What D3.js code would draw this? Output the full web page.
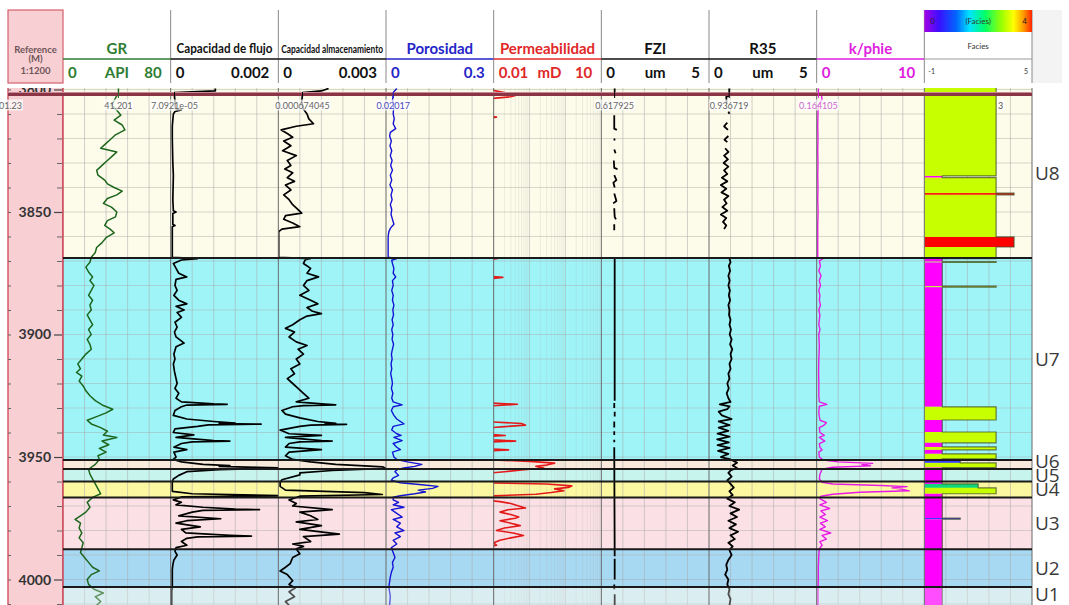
<!DOCTYPE html>
<html><head><meta charset="utf-8">
<script src="https://cdn.jsdelivr.net/npm/d3@7"></script>
<style>
body{margin:0;background:#fff;}
svg{display:block;font-family:Lato,"Open Sans",sans-serif;}
</style>
</head><body>
<svg id="c" width="1069" height="605"></svg>
<script>
// ---------------- data ----------------
const depthRange = [3799.4, 4010.4];
const depthMajorTicks = [3800, 3850, 3900, 3950, 4000];
const depthMinorTicks = d3.range(3800, 4011, 10);
const readoutDepth = 3801.23;

const trackTitles = ["GR", "Capacidad de flujo", "Capacidad almacenamiento", "Porosidad", "Permeabilidad", "FZI", "R35", "k/phie", "Facies"];
const trackUnits  = ["API", "", "", "", "mD", "um", "um", "", ""];
const trackMin    = [0, 0, 0, 0, 0.01, 0, 0, 0, -1];
const trackMax    = [80, 0.002, 0.003, 0.3, 10, 5, 5, 10, 5];
const trackMinLabels = ["0", "0", "0", "0", "0.01", "0", "0", "0", "-1"];
const trackMaxLabels = ["80", "0.002", "0.003", "0.3", "10", "5", "5", "10", "5"];

const zoneNames = ["U8", "U7", "U6", "U5", "U4", "U3", "U2", "U1"];
const zoneTops  = [3799.4, 3868.8, 3951.2, 3954.9, 3960.0, 3966.5, 3987.6, 4003.1];
const zoneBases = [3868.8, 3951.2, 3954.9, 3960.0, 3966.5, 3987.6, 4003.1, 4010.4];

// [depth, value]; null value = no reading
const grData = [[3799.6,41.2],[3801.23,41.201],[3802.5,40],[3804.5,38],[3806.5,36],[3808.5,40],[3810.5,43],[3812.5,38],[3814.5,44],[3816.5,46],[3818.5,39],[3820.5,35],[3822.5,31],[3824,28],[3825.5,40],[3827,37],[3829,33],[3831,29],[3833,25],[3835,26],[3837,31],[3838.5,33],[3840,38],[3841.5,44],[3843,40],[3844.5,33],[3846.5,30],[3848,36],[3850,40],[3852,39],[3853.5,33],[3855.5,31],[3857,35],[3858.5,38],[3860.5,32],[3862.5,29],[3864.5,25],[3866.5,24],[3868.5,21],
[3870.5,20],[3872.5,17],[3874.5,19],[3876.5,22],[3878,20],[3880,23],[3882,21],[3884,19],[3886,22],[3888,20],[3890,21],[3892,18],[3894,20],[3896,22],[3898,19],[3900,21],[3902,18],[3904,20],[3906,21],[3908,17],[3910,14],[3912,11],[3914,13],[3915.5,10],[3917,14],[3919,12],[3921,15],[3923,17],[3925,20],[3927,24],[3929,30],[3930.5,37],[3932,32],[3933.5,25],[3935,18],[3936.5,21],[3938,28],[3939.5,33],[3941,30],[3942,40],[3943.5,29],[3945,34],[3946.5,27],[3948,32],[3949.5,26],[3951,27],
[3953,24],[3955,19],[3957,20],[3959,22],[3961,24],[3963,26],[3965,28],[3966.5,22],[3968.5,18],[3970.5,20],[3972.5,17],[3974,13],[3975.5,9],[3977,13],[3979,12],[3981,14],[3983,12],[3985,15],[3987,14],[3989,13],[3991,16],[3993,19],[3995,22],[3996.5,27],[3998,21],[4000,18],[4002,19],[4004,23],[4005.5,30],[4007,24],[4009,28],[4010.5,25]];

const flowData = [[3799.6,0.00083],[3800.6,0.00083],[3801.23,7.0921e-05],[3802.5,0.00007],[3805,0.00008],[3807.8,0.00009],[3808.3,0.0002],[3809,0.00008],[3810,0.00005],[3815,0.00003],[3820,0.00003],[3830,0.00004],[3835,0.00005],[3845,0.00004],[3849.5,0.00005],[3850,0.0001],[3850.6,0.00004],[3855,0.00004],[3855.5,0.00008],[3856,0.00003],[3868.5,0.00003],
[3869,0.0005],[3869.6,0.0002],[3871,0.00005],[3873,0.0001],[3875,0.00015],[3876.5,0.0003],[3877.5,0.0001],[3880,0.00008],[3882,0.00012],[3884,0.00006],[3886,0.00015],[3887.5,0.0003],[3888.5,0.0001],[3890,0.00025],[3891,0.00012],[3893,0.0002],[3895,0.00008],[3897,0.00012],[3899,0.00007],[3901,0.0001],[3903.5,0.00025],[3905,0.0001],[3908,0.00006],[3910,0.00008],[3912,0.00005],[3915,0.00007],[3918,0.0001],[3920,0.00012],[3922,0.00008],[3924,0.00015],[3926,0.0001],[3927.5,0.0002],[3928.3,0.0008],[3928.5,0.00105],[3928.8,0.0003],[3929.5,0.0002],[3931,0.00008],[3933,0.00005],[3934.5,0.0003],[3935.5,0.0008],[3936.2,0.0012],[3936.4,0.0009],[3936.6,0.00168],[3936.9,0.0007],[3937.5,0.0005],[3938.5,0.00008],[3940,0.00005],[3941,0.00043],[3942,0.0001],[3943.3,0.0008],[3943.5,0.0011],[3943.8,0.0004],[3944.5,0.0002],[3946,0.00006],[3947,0.0003],[3948,0.00006],[3950,0.0001],[3951,0.00005],
[3952,0.0002],[3953,0.0006],[3953.5,0.0011],[3953.8,0.0009],[3954.2,0.0016],[3954.5,0.0021],[3955.2,0.0009],[3956,0.0003],[3957.5,0.00015],[3959,0.00005],[3960,0.00003],[3962,0.00003],[3964,0.00003],[3965,0.0004],[3965.8,0.0021],[3966.3,0.0002],
[3967.5,0.00005],[3968.5,0.0002],[3969.5,0.0001],[3970.5,0.0006],[3971.3,0.0012],[3971.5,0.00165],[3971.8,0.0006],[3972.5,0.0004],[3974,0.00015],[3975.2,0.00093],[3976,0.0003],[3977,0.0001],[3978.5,0.00055],[3979.5,0.0002],[3981,0.00028],[3982,0.0011],[3982.3,0.0015],[3982.6,0.0005],[3983.2,0.0003],[3984.5,0.0002],[3986,0.0003],[3987,0.0001],[3988.5,0.00008],[3990,0.00012],[3992,0.00006],[3994,0.00004],[3996,0.00003],[4000,0.00003],[4003,0.00003],[4005,0.00002],[4010.5,0.00002]];

const storageData = [[3799.6,0.0014],[3800.6,0.0012],[3801.23,0.000674045],[3802.5,0.00067],[3805,0.00065],[3808,0.0007],[3810,0.0008],[3812,0.00085],[3814,0.00098],[3815,0.0005],[3816.5,0.00008],[3818,0.00025],[3819.5,0.0004],[3821,0.00015],[3823,0.00035],[3825,0.00012],[3827,0.0005],[3829,0.00025],[3831,0.00035],[3832.5,0.00018],[3834,0.0004],[3836,0.00025],[3837.5,0.00045],[3839,0.0002],[3841,0.00035],[3843,0.00015],[3845,0.0003],[3847,0.0004],[3849,0.00055],[3850.5,0.00065],[3851.5,0.0002],[3853,0.00015],[3854.5,0.0004],[3856,0.0006],[3857,0.0001],[3858,0.00001],[3868.5,0.00001],
[3869,0.0009],[3869.5,0.00075],[3871,0.0007],[3873,0.0009],[3875,0.0008],[3876.5,0.00112],[3878,0.0008],[3880,0.0007],[3882,0.00085],[3884,0.0006],[3886,0.0009],[3887.5,0.0011],[3889,0.0008],[3890.5,0.00095],[3891.5,0.0012],[3892.5,0.0008],[3894,0.0006],[3896,0.0004],[3897.5,0.0002],[3899,0.00045],[3901,0.0003],[3903,0.0005],[3904.5,0.0008],[3906,0.00055],[3908,0.0007],[3910,0.0005],[3912,0.0006],[3914,0.00035],[3916,0.00045],[3918,0.00025],[3920,0.0004],[3922,0.00055],[3924,0.0007],[3926,0.00085],[3927.5,0.0005],[3928.4,0.0013],[3928.7,0.0016],[3929,0.0007],[3929.5,0.0004],[3931,0.0001],[3932.5,0.0002],[3934,0.0006],[3935.5,0.0011],[3936.3,0.0016],[3936.5,0.0013],[3936.7,0.0019],[3937,0.0009],[3937.5,0.0006],[3939,0.00005],[3940.5,0.0003],[3941.2,0.0012],[3942,0.0002],[3943.3,0.0012],[3943.5,0.0015],[3943.8,0.0006],[3944.5,0.0003],[3946,0.0002],[3947,0.0012],[3948,0.0003],[3949.5,0.0002],[3951,0.0004],
[3952,0.0009],[3953,0.0016],[3953.6,0.0024],[3954,0.0029],[3954.7,0.003],[3955.5,0.0015],[3956.5,0.0006],[3957.3,0.0006],[3959.3,0.0001],[3960.5,0.00005],[3962,0.00005],[3963.5,0.0002],[3964.5,0.0024],[3965.3,0.0029],[3966,0.0006],
[3967.5,0.0003],[3969,0.0005],[3970,0.0004],[3971.5,0.0015],[3972.5,0.0006],[3974,0.0009],[3975.5,0.0011],[3976.5,0.0005],[3978,0.0012],[3979.5,0.0006],[3981.5,0.0017],[3982.5,0.0007],[3984.5,0.0009],[3985.5,0.0004],[3986.5,0.0007],[3987.5,0.0005],[3989.5,0.0006],[3991,0.0004],[3993.5,0.00033],[3995,0.0002],[3996.5,0.00005],[3998,0.00025],[4000.5,0.0004],[4002,0.0003],[4003.5,0.00047],[4005,0.0003],[4007,0.00045],[4009,0.0002],[4010.5,0.0003]];

const phiData = [[3799.6,0.03],[3801.23,0.02017],[3802.5,0.02],[3804.5,0.018],[3806,0.022],[3808,0.021],[3810,0.02],[3812,0.023],[3814,0.02],[3816,0.027],[3817.5,0.012],[3819,0.01],[3821,0.015],[3823,0.011],[3825,0.016],[3827,0.012],[3829,0.017],[3831,0.013],[3833,0.018],[3835,0.012],[3837,0.016],[3839,0.011],[3841,0.018],[3843,0.014],[3845,0.017],[3847,0.012],[3849,0.016],[3851,0.014],[3853,0.018],[3855,0.022],[3856.5,0.013],[3858,0.008],[3860,0.006],[3868.5,0.006],
[3869,0.03],[3869.7,0.016],[3871,0.018],[3873,0.022],[3875,0.02],[3876.5,0.027],[3878,0.018],[3880,0.02],[3882,0.016],[3884,0.02],[3886,0.018],[3888,0.022],[3890,0.019],[3892,0.021],[3894,0.017],[3896,0.02],[3898,0.016],[3900,0.019],[3902,0.017],[3904,0.021],[3906,0.018],[3908,0.015],[3910,0.017],[3912,0.014],[3914,0.016],[3916,0.013],[3918,0.016],[3920,0.018],[3922,0.015],[3924,0.019],[3926,0.016],[3927.5,0.02],[3928.7,0.045],[3929.5,0.02],[3931,0.015],[3933,0.022],[3934.5,0.03],[3936.5,0.05],[3937.5,0.02],[3939,0.016],[3940.5,0.03],[3941.2,0.042],[3942,0.022],[3943.3,0.045],[3944.5,0.02],[3946,0.03],[3947,0.04],[3948,0.018],[3950,0.022],[3951,0.03],
[3952,0.06],[3953,0.1],[3953.8,0.08],[3954.5,0.05],[3955.2,0.03],[3956,0.025],[3957.5,0.035],[3958.5,0.02],[3959.5,0.015],[3960.5,0.04],[3961.3,0.1],[3962,0.145],[3962.8,0.13],[3963.5,0.09],[3964.3,0.11],[3965,0.08],[3965.8,0.04],[3966.4,0.02],
[3967.5,0.02],[3968.5,0.035],[3969.5,0.02],[3970.5,0.05],[3971.5,0.015],[3973,0.03],[3974.5,0.045],[3975.5,0.02],[3977,0.04],[3978.5,0.03],[3980,0.05],[3981,0.025],[3982.5,0.04],[3984,0.02],[3985.5,0.03],[3987,0.015],[3989,0.02],[3991,0.025],[3993,0.018],[3995,0.02],[3997,0.015],[3999,0.012],[4001,0.01],[4003,0.008],[4005,0.01],[4007,0.012],[4010.5,0.01]];

const permData = [[3799.6,0.005],[3801.23,0.02],[3802.2,0.045],[3803,0.03],[3804,0.005],[3810.5,0.005],[3811.3,0.012],[3812,0.005],[3868.5,0.005],[3869,0.013],[3869.7,0.005],[3876,0.005],[3876.7,0.018],[3877.5,0.005],[3927.8,0.005],[3928.5,0.046],[3929.3,0.005],[3935.5,0.005],[3936.3,0.06],[3937,0.077],[3937.6,0.02],[3938.3,0.005],[3940.6,0.005],[3941.2,0.021],[3941.8,0.005],[3943,0.01],[3943.5,0.041],[3944,0.005],[3946.5,0.005],[3947.1,0.026],[3947.7,0.005],[3951,0.005],[3951.8,0.1],[3952.5,0.5],[3953.3,0.3],[3953.8,0.15],[3954.5,0.25],[3955.3,0.06],[3956,0.02],[3956.8,0.005],[3960.5,0.005],[3961,0.3],[3961.8,1.5],[3962.4,1.2],[3963,0.5],[3963.8,0.9],[3964.5,0.4],[3965.2,0.15],[3966,0.005],
[3967.5,0.005],[3968.2,0.015],[3969,0.03],[3970,0.05],[3970.8,0.077],[3971.5,0.025],[3972.5,0.015],[3973.5,0.03],[3974.5,0.05],[3975,0.04],[3976,0.015],[3977,0.03],[3978,0.055],[3979,0.02],[3980,0.012],[3981,0.035],[3982,0.068],[3983,0.03],[3984,0.015],[3985,0.01],[3986,0.012],[3987,0.005],[4010.5,0.005]];

const fziData = [[3799.6,0.62],[3801.23,0.617925],[3802,0.62],[3802.3,null],[3810.5,0.6],[3816,0.6],[3816.5,0.72],[3816.8,null],[3820,0.6],[3820.8,0.62],[3821,null],[3824.5,0.6],[3826,0.66],[3826.3,null],[3829,0.58],[3832,0.6],[3832.5,0.75],[3832.8,null],[3835,0.6],[3837,0.7],[3838,0.56],[3840,0.62],[3840.3,null],[3842.5,0.6],[3845.5,0.7],[3846.5,0.55],[3846.8,null],[3848.5,0.6],[3852,0.62],[3853,0.68],[3853.3,null],[3855,0.6],[3857.5,0.6],[3857.8,null],
[3869,0.62],[3927,0.62],[3927.3,null],[3928,0.6],[3930,0.6],[3930.3,null],[3931.5,0.62],[3933.5,0.62],[3933.8,null],[3935.5,0.6],[3938,0.6],[3938.3,null],[3939.5,0.6],[3941,0.6],[3941.3,null],[3943,0.6],[3944,0.6],[3944.3,null],[3946,0.6],[3990.5,0.62],[3990.8,null],[3991.5,0.62],[4000,0.62],[4000.3,null],[4002,0.6],[4004,0.6],[4004.3,null],[4006,0.62],[4010.5,0.62]];

const r35Data = [[3799.6,0.94],[3801.23,0.936719],[3802.5,0.94],[3803,0.8],[3806,0.82],[3806.3,null],[3809,0.9],[3810,0.95],[3810.3,null],[3813.5,0.85],[3815,0.7],[3816.5,0.88],[3816.8,null],[3819,0.9],[3820.5,0.72],[3821.5,0.85],[3821.8,null],[3824,0.75],[3825.5,0.9],[3827,0.7],[3828.5,0.88],[3830,0.68],[3831.5,0.9],[3833,0.7],[3834.5,0.85],[3836,0.6],[3837.5,0.85],[3839,0.55],[3840.5,0.8],[3842,0.58],[3843.5,0.9],[3845,0.7],[3846.5,0.82],[3848,0.62],[3849.5,0.85],[3851,0.55],[3852.5,0.8],[3854,0.65],[3855.5,0.8],[3857,0.7],[3857.3,null],
[3869,0.95],[3870.5,1.0],[3872,0.92],[3874,0.98],[3876,0.9],[3878,0.96],[3880,0.9],[3882,0.97],[3884,0.92],[3886,0.98],[3888,0.9],[3890,0.95],[3892,0.93],[3894,1.0],[3896,0.95],[3898,1.02],[3900,0.96],[3902,1.05],[3904,0.98],[3906,1.08],[3908,1.0],[3910,1.05],[3912,0.95],[3914,1.0],[3916,0.9],[3918,0.95],[3920,0.85],[3922,0.92],[3924,0.82],[3926,0.9],[3927.5,1.0],[3928.5,0.5],[3929.3,0.95],[3930.5,0.85],[3931.5,0.45],[3933,0.6],[3934.5,1.05],[3935.5,0.45],[3937,0.95],[3938,0.45],[3939.3,0.9],[3940.5,0.4],[3941.7,0.95],[3942.8,0.38],[3944,0.92],[3945.2,0.4],[3946.3,0.95],[3947.5,0.42],[3948.7,0.9],[3950,0.55],[3951,1.0],[3952.3,1.3],[3953.5,1.1],[3954.5,1.3],[3955.5,1.0],
[3956.5,0.9],[3958,1.05],[3959.5,0.85],[3961,1.0],[3962.5,1.15],[3964,0.95],[3965.5,1.1],[3967,0.85],[3968.5,1.2],[3970,0.95],[3971.5,1.4],[3973,1.0],[3974.5,1.3],[3976,0.9],[3977.5,1.25],[3979,0.95],[3980.5,1.35],[3982,1.0],[3983.5,1.2],[3985,0.9],[3986.5,1.1],[3988,0.95],[3990,1.05],[3992,0.9],[3994,0.8],[3996,0.85],[3998,0.75],[4000,0.9],[4002,0.85],[4004,0.95],[4006,0.9],[4008,1.0],[4010.5,0.95]];

const kphiData = [[3799.6,0.16],[3801.23,0.164105],[3802.5,0.45],[3804,0.5],[3805,0.35],[3806.5,0.15],[3810,0.12],[3815,0.1],[3820,0.12],[3825,0.1],[3830,0.12],[3835,0.1],[3840,0.12],[3845,0.1],[3850,0.13],[3855,0.1],[3860,0.1],[3868.5,0.1],
[3869,0.6],[3870,0.25],[3872,0.35],[3874,0.2],[3876,0.4],[3878,0.25],[3880,0.35],[3882,0.2],[3884,0.3],[3886,0.25],[3888,0.35],[3890,0.2],[3892,0.3],[3894,0.25],[3896,0.2],[3898,0.3],[3900,0.2],[3905,0.25],[3910,0.2],[3915,0.18],[3920,0.2],[3925,0.2],[3927.5,0.25],[3928.5,0.95],[3929.3,0.25],[3932,0.2],[3935,0.3],[3936,0.9],[3937,0.7],[3938,0.25],[3940,0.3],[3941.2,0.7],[3942,0.25],[3943.5,0.75],[3944.5,0.25],[3946,0.3],[3947.1,0.5],[3948,0.2],[3950,0.25],[3951.2,0.6],
[3952,2.0],[3952.6,5.2],[3953.1,4.2],[3953.6,5.0],[3954.2,1.5],[3955,0.5],[3957,0.3],[3959,0.25],[3960.3,0.5],[3961,1.5],[3961.6,6.0],[3962.1,8.4],[3962.6,7.0],[3963.2,8.0],[3963.8,8.6],[3964.4,4.0],[3965.2,1.5],[3966,0.4],
[3967,0.3],[3968.5,0.9],[3969.5,0.3],[3971,1.2],[3972,0.4],[3973.5,0.8],[3974.5,0.3],[3976,1.0],[3977,0.35],[3978.5,0.8],[3979.5,0.3],[3981,1.3],[3982,0.5],[3983.5,0.9],[3984.5,0.3],[3986,0.5],[3987.5,0.25],[3990,0.2],[3995,0.15],[4000,0.15],[4005,0.12],[4010.5,0.12]];

// facies intervals: [top, base, code]
const faciesData = [[3799.4,3835.3,3],[3835.3,3836.0,0],[3836.0,3842.3,3],[3842.3,3843.0,4],[3843.0,3860.2,3],[3860.2,3864.3,4],[3864.3,3868.8,3],
[3868.8,3869.0,3],[3869.0,3870.3,0],[3870.3,3870.6,3],[3870.6,3880.3,0],[3880.3,3880.7,3],[3880.7,3929.5,0],[3929.5,3934.9,3],[3934.9,3939.8,0],[3939.8,3944.2,3],[3944.2,3945.9,0],[3945.9,3947.1,3],[3947.1,3948.7,0],[3948.7,3950.8,3],[3950.8,3951.2,0],
[3951.2,3952.4,1],[3952.4,3954.3,3],[3954.3,3961.0,0],[3961.0,3962.6,2],[3962.6,3965.0,3],[3965.0,3974.9,0],[3974.9,3975.4,1],[3975.4,4010.4,0]];

// ---------------- styles ----------------
const zoneColors = {U8:"#fdfbe9", U7:"#9ff4f8", U6:"#f8ebdb", U5:"#c8f4ee", U4:"#fcf8a2", U3:"#fbe1e5", U2:"#a8d9f3", U1:"#cbe5ea"};
const titleColors = ["#2e7d32","#111","#111","#2525c8","#e02828","#111","#111","#e020e0","#333"];
const curveColors = ["#1d661d","#000","#000","#1414d4","#e41a1a","#000","#000","#e619e6"];
const faciesColors = ["#ff00ff","#3b3bff","#10d878","#c8ff00","#ff0000"];

// ---------------- layout ----------------
const svg = d3.select("#c");
const PLOT_TOP = 88, PLOT_BOT = 605, HEAD_TOP = 10, HEAD_LINE = 59, HEAD_BOT = 83;
const REF_L = 8, TRACK_L = 63, TRACK_R = 1032;
const TW = (TRACK_R - TRACK_L) / trackTitles.length;
const trackX = i => TRACK_L + i * TW;

const y = d3.scaleLinear().domain(depthRange).range([PLOT_TOP, PLOT_BOT]);
const xScales = trackTitles.map((t, i) => {
  const s = (i === 4 ? d3.scaleLog() : d3.scaleLinear());
  return s.domain([trackMin[i], trackMax[i]]).range([trackX(i), trackX(i) + TW]);
});

const defs = svg.append("defs");
defs.append("clipPath").attr("id","plotClip").append("rect")
  .attr("x", 0).attr("y", PLOT_TOP).attr("width", 1069).attr("height", PLOT_BOT - PLOT_TOP);
trackTitles.forEach((t, i) => {
  defs.append("clipPath").attr("id", "tc" + i).append("rect")
    .attr("x", trackX(i)).attr("y", PLOT_TOP).attr("width", TW).attr("height", PLOT_BOT - PLOT_TOP);
});
const grad = defs.append("linearGradient").attr("id","facGrad");
[["0","#a400e6"],["0.14","#3a10ff"],["0.3","#0068ff"],["0.42","#00e4ff"],["0.56","#00ff6a"],["0.72","#9cff00"],["0.83","#ffff00"],["0.92","#ff9a00"],["1","#ff2400"]]
  .forEach(s => grad.append("stop").attr("offset", s[0]).attr("stop-color", s[1]));

// ---------------- header ----------------
const head = svg.append("g");
head.append("rect").attr("x", TRACK_R).attr("y", HEAD_TOP).attr("width", 30).attr("height", HEAD_BOT - HEAD_TOP).attr("fill", "#f3f3f3");
head.append("rect").attr("x", REF_L).attr("y", HEAD_TOP).attr("width", TRACK_L - REF_L).attr("height", HEAD_BOT - HEAD_TOP)
  .attr("fill", "#f8d0d4").attr("stroke", "#d4606e").attr("stroke-width", 1.2);
[["Reference", 49], ["(M)", 58], ["1:1200", 70]].forEach(([t, yy]) =>
  head.append("text").attr("x", (REF_L + TRACK_L) / 2).attr("y", yy).attr("text-anchor", "middle")
    .attr("dominant-baseline", "central").attr("font-size", 9.5).attr("font-weight", 700).attr("fill", "#6e5458").text(t));

trackTitles.forEach((t, i) => {
  const x0 = trackX(i), x1 = x0 + TW, cx = x0 + TW / 2;
  head.append("line").attr("x1", x1).attr("x2", x1).attr("y1", HEAD_TOP).attr("y2", HEAD_BOT)
    .attr("stroke", "#8a8a8a").attr("stroke-width", 1);
  if (i === 8) return;
  const tt = head.append("text").attr("x", cx).attr("y", 48).attr("text-anchor", "middle")
    .attr("dominant-baseline", "central").attr("fill", titleColors[i]).attr("font-weight", 700).text(t);
  if (i === 1) tt.attr("font-size", 13).attr("textLength", 96).attr("lengthAdjust", "spacingAndGlyphs");
  else if (i === 2) tt.attr("font-size", 11).attr("textLength", 102).attr("lengthAdjust", "spacingAndGlyphs");
  else tt.attr("font-size", 15);
  head.append("line").attr("x1", x0).attr("x2", x1).attr("y1", HEAD_LINE).attr("y2", HEAD_LINE)
    .attr("stroke", i === 0 ? "#2e7d32" : titleColors[i]).attr("stroke-width", 1.6);
  const sc = (i === 0 || i === 3 || i === 4 || i === 7) ? titleColors[i] : "#111";
  head.append("text").attr("x", x0 + 5).attr("y", 72).attr("dominant-baseline", "central")
    .attr("font-size", 15).attr("font-weight", 700).attr("fill", sc).text(trackMinLabels[i]);
  head.append("text").attr("x", x1 - 9).attr("y", 72).attr("text-anchor", "end").attr("dominant-baseline", "central")
    .attr("font-size", 15).attr("font-weight", 700).attr("fill", sc).text(trackMaxLabels[i]);
  if (trackUnits[i]) head.append("text").attr("x", cx + (i === 4 ? 2 : 0)).attr("y", 72).attr("text-anchor", "middle")
    .attr("dominant-baseline", "central").attr("font-size", 15).attr("font-weight", 700).attr("fill", sc).text(trackUnits[i]);
});
// facies header with colour bar
{
  const x0 = trackX(8), x1 = x0 + TW;
  head.append("rect").attr("x", x0).attr("y", HEAD_TOP).attr("width", TW).attr("height", 22).attr("fill", "url(#facGrad)");
  head.append("text").attr("x", x0 + 6).attr("y", 21).attr("dominant-baseline", "central").attr("font-size", 8).attr("fill", "#222").text("0");
  head.append("text").attr("x", x0 + TW / 2).attr("y", 21).attr("text-anchor", "middle").attr("dominant-baseline", "central").attr("font-size", 8).attr("fill", "#333").text("(Facies)");
  head.append("text").attr("x", x1 - 5).attr("y", 21).attr("text-anchor", "end").attr("dominant-baseline", "central").attr("font-size", 8).attr("fill", "#222").text("4");
  head.append("text").attr("x", x0 + TW / 2).attr("y", 46).attr("text-anchor", "middle").attr("dominant-baseline", "central").attr("font-size", 8).attr("fill", "#333").text("Facies");
  head.append("line").attr("x1", x0).attr("x2", x1).attr("y1", HEAD_LINE).attr("y2", HEAD_LINE).attr("stroke", "#999").attr("stroke-width", 1);
  head.append("text").attr("x", x0 + 4).attr("y", 71).attr("dominant-baseline", "central").attr("font-size", 7).attr("fill", "#333").text(trackMinLabels[8]);
  head.append("text").attr("x", x1 - 4).attr("y", 71).attr("text-anchor", "end").attr("dominant-baseline", "central").attr("font-size", 7).attr("fill", "#333").text(trackMaxLabels[8]);
}

// ---------------- plot body ----------------
const body = svg.append("g").attr("clip-path", "url(#plotClip)");
// reference column
body.append("rect").attr("x", REF_L).attr("y", PLOT_TOP - 5).attr("width", TRACK_L - REF_L).attr("height", PLOT_BOT - PLOT_TOP + 10)
  .attr("fill", "#f8cfd3").attr("stroke", "#d2505f").attr("stroke-width", 1.4);

// zone backgrounds
zoneNames.forEach((z, i) => {
  body.append("rect").attr("x", TRACK_L).attr("y", y(zoneTops[i])).attr("width", TRACK_R - TRACK_L)
    .attr("height", y(zoneBases[i]) - y(zoneTops[i])).attr("fill", zoneColors[z]);
});

// grids
const grid = body.append("g").attr("stroke", "#a8a8a8").attr("stroke-width", 1);
depthMinorTicks.forEach(d => grid.append("line").attr("x1", TRACK_L).attr("x2", TRACK_R).attr("y1", y(d)).attr("y2", y(d)).attr("stroke-opacity", 0.45));
trackTitles.forEach((t, i) => {
  const s = xScales[i];
  if (i === 4) {
    [0.01, 0.1, 1].forEach(k => d3.range(2, 10).forEach(m =>
      grid.append("line").attr("x1", s(k * m)).attr("x2", s(k * m)).attr("y1", PLOT_TOP).attr("y2", PLOT_BOT).attr("stroke-opacity", 0.18)));
    [0.1, 1].forEach(v => grid.append("line").attr("x1", s(v)).attr("x2", s(v)).attr("y1", PLOT_TOP).attr("y2", PLOT_BOT).attr("stroke-opacity", 0.5));
  } else {
    d3.range(1, 5).map(j => trackMin[i] + j * (trackMax[i] - trackMin[i]) / 5)
      .forEach(v => grid.append("line").attr("x1", s(v)).attr("x2", s(v)).attr("y1", PLOT_TOP).attr("y2", PLOT_BOT).attr("stroke-opacity", 0.5));
  }
});

// facies fill + step outline
const fx = xScales[8];
const fac = body.append("g").attr("clip-path", "url(#tc8)");
faciesData.forEach(([t, b, c]) => {
  fac.append("rect").attr("x", fx(-1)).attr("y", y(t)).attr("width", fx(c) - fx(-1)).attr("height", y(b) - y(t))
    .attr("fill", faciesColors[c]);
});
const stepPts = [];
faciesData.forEach(([t, b, c]) => { stepPts.push([t, c]); stepPts.push([b, c]); });
fac.append("path").datum(stepPts).attr("fill", "none").attr("stroke", "#3f4f28").attr("stroke-opacity", 0.75).attr("stroke-width", 1.2)
  .attr("d", d3.line().x(d => fx(d[1])).y(d => y(d[0])));

// curves
const curves = [grData, flowData, storageData, phiData, permData, fziData, r35Data, kphiData];
const widths = [1.5, 1.7, 1.7, 1.4, 1.6, 1.8, 1.8, 1.4];
curves.forEach((data, i) => {
  const s = xScales[i];
  body.append("g").attr("clip-path", "url(#tc" + i + ")").append("path").datum(data)
    .attr("fill", "none").attr("stroke", curveColors[i]).attr("stroke-width", widths[i]).attr("stroke-linejoin", "round")
    .attr("d", d3.line().defined(d => d[1] !== null)
      .x(d => i === 4 ? s(Math.max(d[1], 0.004)) : s(d[1])).y(d => y(d[0])));
});

// faded bottom unit
body.append("rect").attr("x", TRACK_L).attr("y", y(zoneTops[7])).attr("width", TRACK_R - TRACK_L)
  .attr("height", y(zoneBases[7]) - y(zoneTops[7])).attr("fill", "#ffffff").attr("opacity", 0.3);

// track separators
trackTitles.forEach((t, i) => {
  const x1 = trackX(i) + TW;
  body.append("line").attr("x1", x1).attr("x2", x1).attr("y1", PLOT_TOP).attr("y2", PLOT_BOT).attr("stroke", "#6a6a6a").attr("stroke-width", 1);
});
body.append("line").attr("x1", TRACK_L).attr("x2", TRACK_L).attr("y1", PLOT_TOP).attr("y2", PLOT_BOT).attr("stroke", "#c84a5a").attr("stroke-width", 1.5);

// unit boundaries
zoneTops.slice(1).forEach(d => body.append("line").attr("x1", TRACK_L).attr("x2", TRACK_R).attr("y1", y(d)).attr("y2", y(d))
  .attr("stroke", "#1a1a1a").attr("stroke-width", 2));

// depth axis
const axMajor = body.append("g").attr("transform", `translate(${TRACK_L - 1},0)`)
  .call(d3.axisLeft(y).tickValues(depthMajorTicks).tickSize(8).tickPadding(3).tickFormat(d3.format("d")));
axMajor.select(".domain").remove();
axMajor.selectAll("line").attr("stroke", "#444").attr("stroke-width", 1.2);
axMajor.selectAll("text").attr("font-size", 14).attr("font-weight", 700).attr("fill", "#333").attr("font-family", "Lato, sans-serif");
const axMinor = body.append("g").attr("transform", `translate(${TRACK_L - 1},0)`)
  .call(d3.axisLeft(y).tickValues(depthMinorTicks.filter(d => d % 50)).tickSize(5).tickFormat(""));
axMinor.select(".domain").remove();
axMinor.selectAll("line").attr("stroke", "#666");
const axLeft = body.append("g").attr("transform", `translate(${REF_L},0)`)
  .call(d3.axisRight(y).tickValues(depthMinorTicks).tickSize(3).tickFormat(""));
axLeft.select(".domain").remove();
axLeft.selectAll("line").attr("stroke", "#666");

// top cursor line and readouts
body.append("line").attr("x1", REF_L).attr("x2", TRACK_R).attr("y1", 94.5).attr("y2", 94.5).attr("stroke", "#8a3446").attr("stroke-width", 3);
body.append("line").attr("x1", REF_L).attr("x2", TRACK_R).attr("y1", 92.5).attr("y2", 92.5).attr("stroke", "#c98a96").attr("stroke-width", 1);

const readouts = curves.map((data, i) => {
  const p = data.find(d => d[0] === readoutDepth);
  return p ? p[1] : null;
});
const fmt = (v, i) => {
  if (i === 1) return v.toExponential(4).replace(/e-(\d)$/, "e-0$1");
  return String(v);
};
const ro = body.append("g");
const roText = (x, txt, col, anchor) => {
  const t = ro.append("text").attr("x", x).attr("y", 105).attr("text-anchor", anchor || "middle").attr("dominant-baseline", "central")
    .attr("font-size", 9).attr("fill", col).text(txt);
  const bb = t.node().getBBox();
  ro.insert("rect", "text").attr("x", bb.x - 1).attr("y", bb.y).attr("width", bb.width + 2).attr("height", bb.height)
    .attr("fill", "#ffffff").attr("opacity", 0.7);
};
readouts.forEach((v, i) => {
  if (v === null || i === 4) return;
  const cx = xScales[i](v);
  ro.append("line").attr("x1", cx).attr("x2", cx).attr("y1", 92).attr("y2", 98).attr("stroke", curveColors[i]).attr("stroke-width", 1);
  const col = i === 7 ? "#cc66cc" : (i === 3 ? "#4a4ac0" : "#666");
  roText(cx, fmt(v, i), col);
});
{
  const fc = faciesData.find(f => f[0] <= readoutDepth && f[1] > readoutDepth)[2];
  roText(fx(fc) + 2, String(fc), "#555", "start");
}
roText(22, String(readoutDepth), "#666", "end");

// unit labels
zoneNames.forEach((z, i) => {
  const mid = (zoneTops[i] + zoneBases[i]) / 2;
  svg.append("text").attr("x", TRACK_R + 3).attr("y", y(mid) - (z === "U6" ? 3 : 0) - (z === "U1" ? 2 : 0)).attr("dominant-baseline", "central")
    .attr("font-family", "'Open Sans', sans-serif").attr("font-size", 19).attr("fill", "#3a3a3a").text(z);
});
</script>
</body></html>
